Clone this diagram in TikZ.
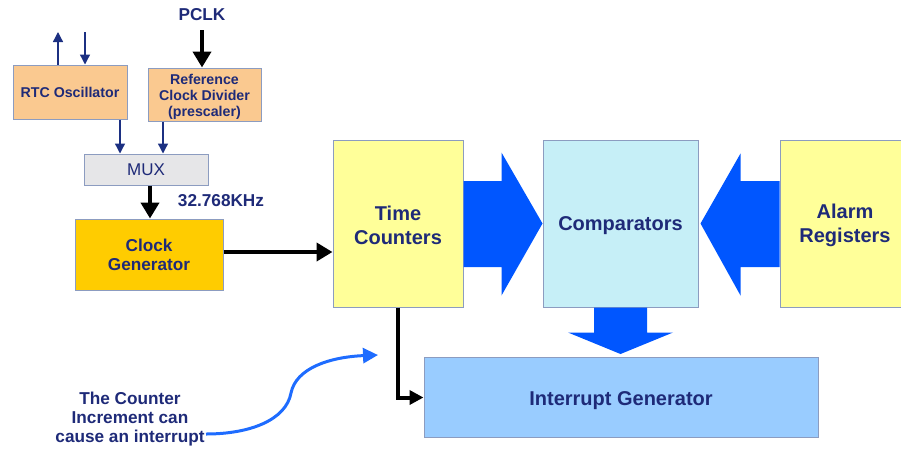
\documentclass[tikz,border=0pt]{standalone}
\usepackage{fontspec}
\setmainfont{Liberation Sans}
\usetikzlibrary{arrows.meta,calc}

\definecolor{navytext}{RGB}{30,42,120}
\definecolor{navyline}{RGB}{28,48,130}
\definecolor{boxedge}{RGB}{140,156,192}
\definecolor{peach}{RGB}{250,201,144}
\definecolor{muxgray}{RGB}{230,230,232}
\definecolor{gold}{RGB}{255,204,0}
\definecolor{paleyellow}{RGB}{255,255,153}
\definecolor{palecyan}{RGB}{198,239,247}
\definecolor{skyblue}{RGB}{153,204,255}
\definecolor{bigblue}{RGB}{0,86,255}
\definecolor{curveblue}{RGB}{30,108,255}

\tikzset{
  blk/.style={draw=boxedge, line width=1pt, inner sep=0pt, align=center,
    text=navytext, font=\bfseries},
  lbl/.style={inner sep=0pt, align=center, text=navytext},
  smalltxt/.style={font=\fontsize{14.2}{16}\selectfont\bfseries},
  midtxt/.style={font=\fontsize{17.2}{19}\selectfont\bfseries},
  bigtxt/.style={font=\fontsize{20}{24}\selectfont\bfseries},
  thinarrow/.style={draw=navyline, line width=1.3pt,
    -{Triangle[length=10pt,width=10pt]}},
  thickarrow/.style={draw=black, line width=4pt,
    -{Triangle[length=16pt,width=18pt]}},
  fatarrow/.style={fill=bigblue, draw=none},
}

\begin{document}
\begin{tikzpicture}[x=1pt, y=-1pt]
\useasboundingbox (0,0) rectangle (901,448);
\clip (0,0) rectangle (901,448);

% clock source blocks
\node[blk, smalltxt, fill=peach, minimum width=114pt, minimum height=54pt]
  (rtc) at (70,92) {RTC Oscillator};
\node[blk, fill=peach, minimum width=113pt, minimum height=53pt]
  (rcd) at (204.5,94.5) {};
\node[lbl, smalltxt] (rcdtext) at ([yshift=-2pt]rcd.center)
  {Reference\\Clock Divider\\(prescaler)};
\node[blk, fill=muxgray, minimum width=124pt, minimum height=31pt,
  font=\fontsize{17}{19}\selectfont]
  (mux) at (146,169.5) {MUX};
\node[blk, midtxt, fill=gold, minimum width=148pt, minimum height=71pt]
  (clk) at (149,254.5) {Clock\\Generator};

% main blocks
\node[blk, fill=paleyellow, minimum width=130pt, minimum height=167pt]
  (tc) at (398,223.5) {};
\node[lbl, bigtxt] (tctext) at ([yshift=-2pt]tc.center) {Time\\Counters};
\node[blk, fill=palecyan, minimum width=155pt, minimum height=167pt]
  (cmp) at (620.5,223.5) {};
\node[lbl, bigtxt] (cmptext) at ([yshift=-2.5pt]cmp.center) {Comparators};
\node[blk, fill=paleyellow, minimum width=130pt, minimum height=167pt]
  (alarm) at (845,223.5) {};
\node[lbl, bigtxt] (alarmtext) at ([yshift=-2pt]alarm.center) {Alarm\\Registers};
\node[blk, fill=skyblue, minimum width=394pt, minimum height=80pt]
  (intg) at (621,397.5) {};
\node[lbl, bigtxt] (intgtext) at ([yshift=-3pt]intg.center) {Interrupt Generator};

% free labels
\node[midtxt, text=navytext] (pclk) at (202,15) {PCLK};
\node[midtxt, text=navytext] (freq) at (221,201) {32.768KHz};
\node[midtxt, text=navytext, align=center] (note) at (130,419)
  {The Counter\\Increment can\\cause an interrupt};

% oscillator pins
\coordinate (oscout) at (58,32);
\coordinate (oscin) at (85,32);
\draw[thinarrow] (rtc.north -| oscout) -- (oscout);
\draw[thinarrow] (oscin) -- (oscin |- rtc.north);

% clock path
\coordinate (pclkfoot) at (202,30);
\draw[thickarrow] (pclkfoot) -- (pclkfoot |- rcd.north);
\draw[thinarrow] ([xshift=50pt]rtc.south) -- ([xshift=50pt]rtc.south |- mux.north);
\draw[thinarrow] ([xshift=-41.5pt]rcd.south) -- ([xshift=-41.5pt]rcd.south |- mux.north);
\draw[thickarrow] ([xshift=4pt]mux.south) -- ([xshift=4pt]mux.south |- clk.north);
\draw[thickarrow] ([yshift=2.5pt]clk.east) -- ([yshift=2.5pt]clk.east -| tc.west);
\draw[line width=4pt, -{Triangle[length=14pt,width=14pt]}]
  (tc.south) |- (intg.west);

% wide data arrows
\fill[fatarrow] ($(tc.east)+(0,-42.5)$) -- ($(tc.east)+(38,-42.5)$)
  -- ($(tc.east)+(38,-71)$) -- (cmp.west) -- ($(tc.east)+(38,72)$)
  -- ($(tc.east)+(38,43.5)$) -- ($(tc.east)+(0,43.5)$) -- cycle;
\fill[fatarrow] ($(alarm.west)+(0,-42.5)$) -- ($(alarm.west)+(-39,-42.5)$)
  -- ($(alarm.west)+(-39,-70)$) -- ($(cmp.east)+(2,0)$) -- ($(alarm.west)+(-39,72)$)
  -- ($(alarm.west)+(-39,43.5)$) -- ($(alarm.west)+(0,43.5)$) -- cycle;
\fill[fatarrow] ($(cmp.south)+(-26.5,0)$) -- ($(cmp.south)+(26.5,0)$)
  -- ($(cmp.south)+(26.5,25)$) -- ($(cmp.south)+(52.5,25)$)
  -- ($(intg.north)+(-0.5,-3)$) -- ($(cmp.south)+(-52.5,25)$)
  -- ($(cmp.south)+(-26.5,25)$) -- cycle;

% annotation curve
\coordinate (curvestart) at (206,434);
\coordinate (curvetip) at (378,355);
\draw[curveblue, line width=3pt, -{Triangle[length=15pt,width=15pt]}]
  (curvestart) .. controls (250,434) and (286,420) .. (291,393)
  .. controls (296,368) and (330,357) .. (curvetip);
\end{tikzpicture}
\end{document}
